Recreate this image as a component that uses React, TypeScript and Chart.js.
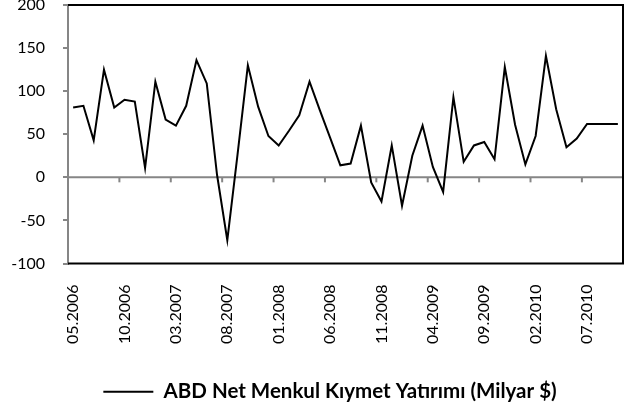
import React, { useEffect, useRef } from "react";
import { Chart, registerables } from "chart.js";

Chart.register(...registerables);

const months: string[] = [
  "05.2006", "06.2006", "07.2006", "08.2006", "09.2006", "10.2006", "11.2006", "12.2006",
  "01.2007", "02.2007", "03.2007", "04.2007", "05.2007", "06.2007", "07.2007", "08.2007",
  "09.2007", "10.2007", "11.2007", "12.2007", "01.2008", "02.2008", "03.2008", "04.2008",
  "05.2008", "06.2008", "07.2008", "08.2008", "09.2008", "10.2008", "11.2008", "12.2008",
  "01.2009", "02.2009", "03.2009", "04.2009", "05.2009", "06.2009", "07.2009", "08.2009",
  "09.2009", "10.2009", "11.2009", "12.2009", "01.2010", "02.2010", "03.2010", "04.2010",
  "05.2010", "06.2010", "07.2010", "08.2010", "09.2010", "10.2010",
];

const netInvestment: number[] = [
  81, 83, 43, 125, 81, 90, 88, 11, 111, 67,
  60, 83, 136, 109, 3, -73, 27, 130, 82, 48,
  37, 54, 72, 111, 78, 46, 14, 16, 60, -6,
  -28, 37, -33, 25, 60, 12, -17, 93, 18, 37,
  41, 21, 128, 61, 15, 48, 141, 79, 35, 45,
  62, 62, 62, 62,
];

const seriesName = "ABD Net Menkul Kıymet Yatırımı (Milyar $)";
const yMin = -100;
const yMax = 200;
const yStep = 50;
const labelEvery = 5;

const framePlugin = {
  id: "frame",
  beforeDatasetsDraw(chart: any) {
    const { ctx, chartArea: a, scales } = chart;
    const x = scales.x;
    const y = scales.y;
    ctx.save();
    const y0 = y.getPixelForValue(0);
    ctx.strokeStyle = "#868686";
    ctx.lineWidth = 2;
    ctx.beginPath();
    ctx.moveTo(a.left, y0);
    ctx.lineTo(a.right, y0);
    ctx.stroke();
    for (let i = labelEvery; i < months.length; i += labelEvery) {
      const px = (x.getPixelForValue(i - 1) + x.getPixelForValue(i)) / 2;
      ctx.beginPath();
      ctx.moveTo(px, y0);
      ctx.lineTo(px, y0 + 5);
      ctx.stroke();
    }
    ctx.strokeStyle = "#000";
    ctx.lineWidth = 2;
    ctx.beginPath();
    ctx.moveTo(a.left, a.top);
    ctx.lineTo(a.right, a.top);
    ctx.lineTo(a.right, a.bottom);
    ctx.lineTo(a.left, a.bottom);
    ctx.stroke();
    ctx.restore();
  },
};

export default function App() {
  const ref = useRef<HTMLCanvasElement | null>(null);
  useEffect(() => {
    document.body.style.margin = "0";
    if (!ref.current) return;
    const chart = new Chart(ref.current, {
      type: "line",
      data: {
        labels: months,
        datasets: [
          {
            label: seriesName,
            data: netInvestment,
            borderColor: "#000",
            backgroundColor: "#000",
            borderWidth: 2,
            pointRadius: 0,
            pointStyle: "line",
            tension: 0,
          },
        ],
      },
      options: {
        animation: false,
        responsive: true,
        maintainAspectRatio: false,
        layout: { padding: { left: 10, right: -12, top: 5, bottom: 0 } },
        scales: {
          x: {
            type: "category",
            offset: true,
            grid: { display: false, drawTicks: false },
            border: { display: false },
            afterFit: (s: any) => {
              s.height = 108;
              s.paddingLeft = 0;
              s.paddingRight = 0;
            },
            ticks: {
              autoSkip: false,
              minRotation: 90,
              maxRotation: 90,
              padding: 21,
              color: "#000",
              font: { family: "Lato", size: 16 },
              callback: (_v: any, i: number) => (i % labelEvery === 0 ? months[i] : ""),
            },
          },
          y: {
            min: yMin,
            max: yMax,
            grid: { drawOnChartArea: false, drawTicks: true, tickLength: 5, color: "#868686", lineWidth: 2 },
            border: { display: true, color: "#868686", width: 2 },
            afterFit: (s: any) => {
              s.width = 58;
              s.paddingTop = 0;
              s.paddingBottom = 0;
              s.paddingLeft = 0;
              s.paddingRight = 0;
            },
            ticks: {
              stepSize: yStep,
              padding: 18,
              color: "#000",
              font: { family: "Lato", size: 16 },
            },
          },
          spacer: {
            type: "linear",
            position: "right",
            display: true,
            grid: { display: false, drawTicks: false },
            border: { display: false },
            ticks: { display: false },
            afterFit: (s: any) => {
              s.width = 27;
              s.paddingTop = 0;
              s.paddingBottom = 0;
            },
          },
        },
        plugins: {
          legend: {
            position: "bottom",
            labels: {
              usePointStyle: true,
              pointStyleWidth: 50,
              color: "#000",
              font: { family: "Lato", size: 20.5, weight: "bold" },
              padding: 10,
            },
          },
          tooltip: { enabled: false },
        },
      },
      plugins: [framePlugin],
    });
    return () => chart.destroy();
  }, []);
  return (
    <div style={{ width: 638, height: 412, position: "relative" }}>
      <canvas ref={ref} />
    </div>
  );
}
